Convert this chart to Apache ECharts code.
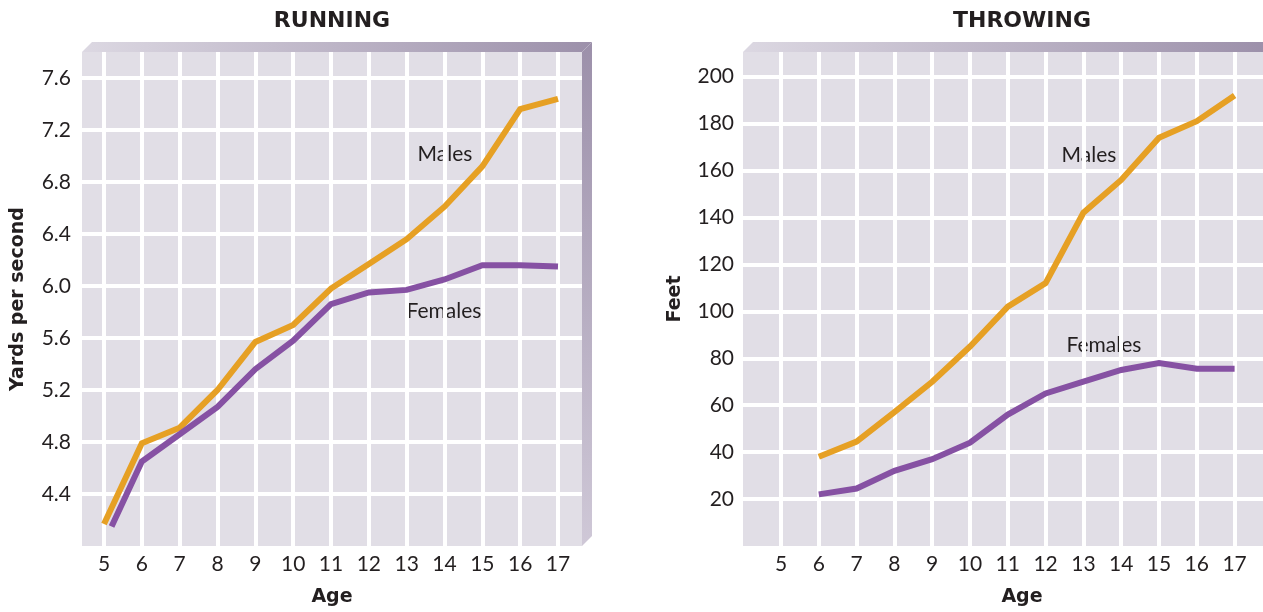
<!DOCTYPE html>
<html>
<head>
<meta charset="utf-8">
<script src="https://cdn.jsdelivr.net/npm/echarts@6/dist/echarts.min.js"></script>
<style>
  html, body { margin: 0; padding: 0; background: #ffffff; }
  #chart { width: 1263px; height: 612px; }
</style>
</head>
<body>
<div id="chart"></div>
<script>
// Motor skill development by age: running speed and throwing distance
const ages = [5, 6, 7, 8, 9, 10, 11, 12, 13, 14, 15, 16, 17];

// Running (yards per second)
const runMaleAges = [5, 6, 7, 8, 9, 10, 11, 12, 13, 14, 15, 16, 17];
const runMale = [4.17, 4.79, 4.91, 5.20, 5.57, 5.70, 5.98, 6.17, 6.36, 6.61, 6.92, 7.36, 7.44];
const runFemaleAges = [5.2, 6, 7, 8, 9, 10, 11, 12, 13, 14, 15, 16, 17];
const runFemale = [4.15, 4.65, 4.86, 5.07, 5.36, 5.58, 5.86, 5.95, 5.97, 6.05, 6.16, 6.16, 6.15];

// Throwing (feet)
const throwAges = [6, 7, 8, 9, 10, 11, 12, 13, 14, 15, 16, 17];
const throwMale = [38, 44.5, 57, 70, 85, 102, 112, 142, 156, 174, 181, 192];
const throwFemale = [22, 24.5, 32, 37, 44, 56, 65, 70, 75, 78, 75.5, 75.5];

// Value-axis tick ranges
const runTicks = { min: 4.4, max: 7.6, step: 0.4 };
const throwTicks = { min: 20, max: 200, step: 20 };

const INK = '#231f20';
const MALE = '#e6a024';
const FEMALE = '#8651a3';
const PANEL = '#e1dee6';
const LABEL_FONT = 'Lato';
const TITLE_FONT = 'DejaVu Sans';

const pairs = (xs, ys) => xs.map((x, i) => [x, ys[i]]);

const panels = [
  {
    title: 'RUNNING', yName: 'Yards per second', yNameSize: 19, yNameX: 18,
    bg: { x: 82, y: 52, w: 500, h: 494 },
    ageLeft: 104, ageWidth: 454,
    yRange: [4.0, 7.8], ticks: runTicks, decimals: 1, labelMargin: 11,
    male: pairs(runMaleAges, runMale), female: pairs(runFemaleAges, runFemale),
    maleLabel: [445, 154], femaleLabel: [444, 311],
    sideWall: true
  },
  {
    title: 'THROWING', yName: 'Feet', yNameSize: 19, yNameX: 675,
    bg: { x: 743, y: 52, w: 558, h: 494 },
    ageLeft: 781, ageWidth: 453.6,
    yRange: [0, 210.5], ticks: throwTicks, decimals: 0, labelMargin: 9,
    male: pairs(throwAges, throwMale), female: pairs(throwAges, throwFemale),
    maleLabel: [1089, 155], femaleLabel: [1104, 345],
    sideWall: false
  }
];

const grid = [], xAxis = [], yAxis = [], series = [], graphics = [];

panels.forEach((p) => {
  const b = p.bg;
  const span = p.yRange[1] - p.yRange[0];
  const pxPerUnit = b.h / span;
  const lineTop = b.y + (p.yRange[1] - p.ticks.max) * pxPerUnit;
  const lineHeight = (p.ticks.max - p.ticks.min) * pxPerUnit;

  // Grid carrying the horizontal rules and value labels
  const gH = grid.length;
  grid.push({ left: b.x, top: lineTop, width: b.w, height: lineHeight, containLabel: false });
  xAxis.push({ gridIndex: gH, type: 'value', min: 0, max: 1, show: false });
  yAxis.push({
    gridIndex: gH, type: 'value',
    min: p.ticks.min, max: p.ticks.max, interval: p.ticks.step,
    axisLine: { show: false }, axisTick: { show: false },
    axisLabel: {
      color: INK, fontFamily: LABEL_FONT, fontSize: 21, margin: p.labelMargin,
      formatter: (v) => v.toFixed(p.decimals)
    },
    splitLine: { show: true, lineStyle: { color: '#ffffff', width: 4 } }
  });

  // Grid carrying the age rules, age labels and the data lines
  const gD = grid.length;
  grid.push({ left: p.ageLeft, top: b.y, width: p.ageWidth, height: b.h, containLabel: false });
  xAxis.push({
    gridIndex: gD, type: 'value', min: ages[0], max: ages[ages.length - 1], interval: 1,
    axisLine: { show: false }, axisTick: { show: false },
    axisLabel: { color: INK, fontFamily: LABEL_FONT, fontSize: 21, margin: 8 },
    splitLine: { show: true, lineStyle: { color: '#ffffff', width: 4 } }
  });
  yAxis.push({ gridIndex: gD, type: 'value', min: p.yRange[0], max: p.yRange[1], show: false });

  const lineSeries = (name, data, color) => ({
    name, type: 'line', xAxisIndex: gD, yAxisIndex: gD, data,
    showSymbol: false, symbol: 'none', silent: true, z: 3,
    lineStyle: { color, width: 6, cap: 'butt', join: 'miter' }
  });
  series.push(lineSeries(p.title + ' Males', p.male, MALE));
  series.push(lineSeries(p.title + ' Females', p.female, FEMALE));

  // Panel face, bevelled top edge and right wall
  graphics.push({
    type: 'rect', z: -5, silent: true,
    shape: { x: b.x, y: b.y, width: b.w, height: b.h },
    style: { fill: PANEL }
  });
  graphics.push({
    type: 'polygon', z: -5, silent: true,
    shape: { points: [[b.x, b.y], [b.x + 10, b.y - 10], [b.x + b.w + 10, b.y - 10], [b.x + b.w, b.y]] },
    style: {
      fill: {
        type: 'linear', x: 0, y: 0, x2: 1, y2: 0,
        colorStops: p.sideWall
          ? [{ offset: 0, color: '#dcd8e2' }, { offset: 1, color: '#9c90aa' }]
          : [{ offset: 0, color: '#dcd8e2' }, { offset: 0.92, color: '#9c90aa' }, { offset: 1, color: '#9c90aa' }]
      }
    }
  });
  if (p.sideWall) {
    graphics.push({
      type: 'polygon', z: -5, silent: true,
      shape: { points: [[b.x + b.w, b.y], [b.x + b.w + 10, b.y - 10], [b.x + b.w + 10, b.y + b.h - 10], [b.x + b.w, b.y + b.h]] },
      style: {
        fill: {
          type: 'linear', x: 0, y: 0, x2: 0, y2: 1,
          colorStops: [{ offset: 0, color: '#9c90aa' }, { offset: 1, color: '#cfc8d7' }]
        }
      }
    });
  }

  // Titles and axis names
  const cx = b.x + b.w / 2;
  graphics.push({
    type: 'text', silent: true, x: cx, y: 21,
    style: { text: p.title, fill: INK, fontFamily: TITLE_FONT, fontWeight: 'bold', fontSize: 22, align: 'center', verticalAlign: 'middle' }
  });
  graphics.push({
    type: 'text', silent: true, x: cx, y: 597,
    style: { text: 'Age', fill: INK, fontFamily: TITLE_FONT, fontWeight: 'bold', fontSize: 19, align: 'center', verticalAlign: 'middle' }
  });
  graphics.push({
    type: 'text', silent: true, x: p.yNameX, y: b.y + b.h / 2, rotation: Math.PI / 2,
    style: { text: p.yName, fill: INK, fontFamily: TITLE_FONT, fontWeight: 'bold', fontSize: p.yNameSize, align: 'center', verticalAlign: 'middle' }
  });

  // Series names written beside the lines
  graphics.push({
    type: 'text', silent: true, x: p.maleLabel[0], y: p.maleLabel[1],
    style: { text: 'Males', fill: INK, fontFamily: LABEL_FONT, fontSize: 21, align: 'center', verticalAlign: 'middle' }
  });
  graphics.push({
    type: 'text', silent: true, x: p.femaleLabel[0], y: p.femaleLabel[1],
    style: { text: 'Females', fill: INK, fontFamily: LABEL_FONT, fontSize: 21, align: 'center', verticalAlign: 'middle' }
  });
});

const chart = echarts.init(document.getElementById('chart'), null, { renderer: 'canvas' });
chart.setOption({
  animation: false,
  backgroundColor: '#ffffff',
  grid, xAxis, yAxis, series,
  graphic: { elements: graphics }
});
</script>
</body>
</html>
